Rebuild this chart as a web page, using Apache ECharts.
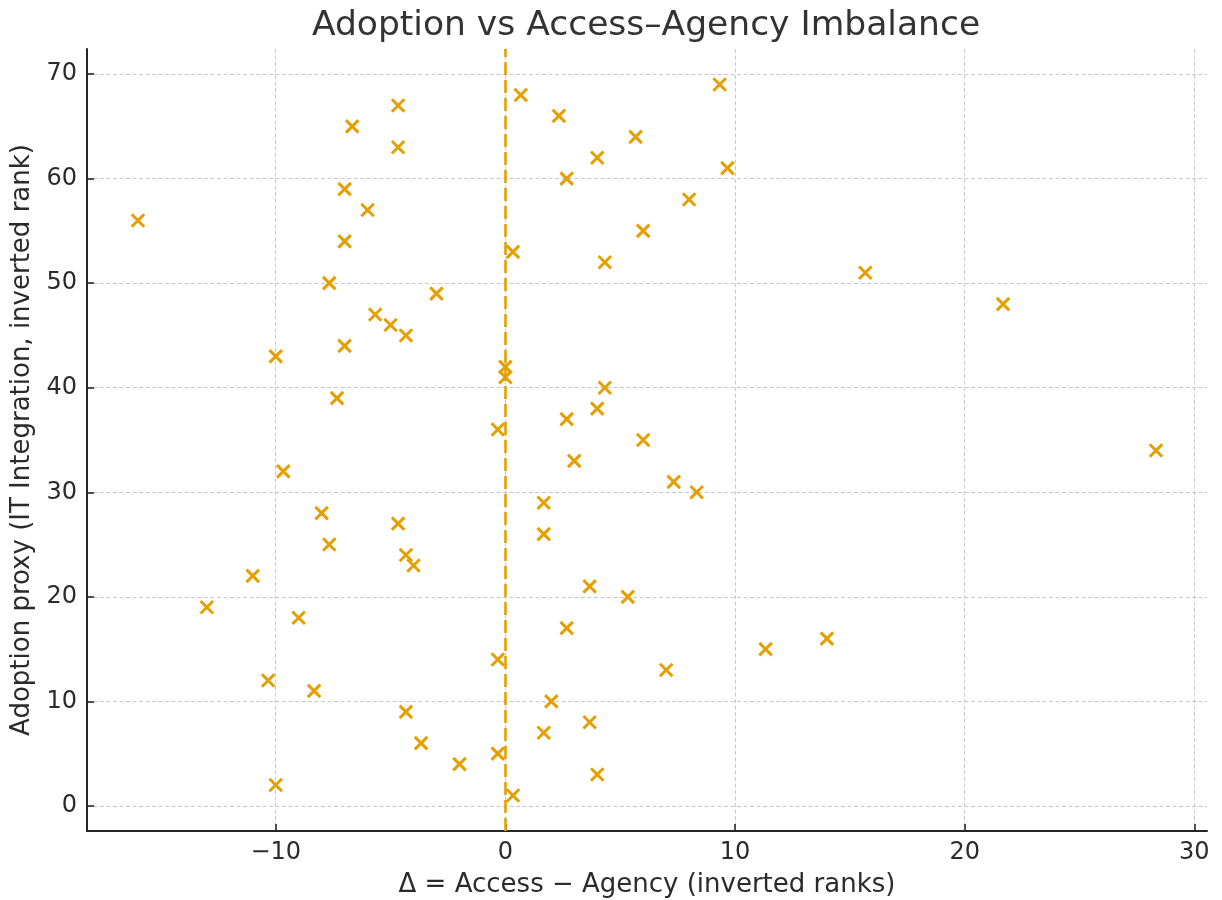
<!DOCTYPE html>
<html>
<head>
<meta charset="utf-8">
<script src="https://cdn.jsdelivr.net/npm/echarts@6/dist/echarts.min.js"></script>
<style>
html,body{margin:0;padding:0;background:#fff;}
#chart{width:1222px;height:900px;}
</style>
</head>
<body>
<div id="chart"></div>
<script>
// Δ = Access − Agency (inverted ranks)
const deltaValues = [9.33,0.67,-4.67,2.33,-6.67,5.67,-4.67,4,9.67,2.67,-7,8,-6,-16,6,-7,0.33,4.33,15.67,-7.67,-3,21.67,-5.67,-5,-4.33,-7,-10,0,0,4.33,-7.33,4,2.67,-0.33,6,28.33,3,-9.67,7.33,8.33,1.67,-8,-4.67,1.67,-7.67,-4.33,-4,-11,3.67,5.33,-13,-9,2.67,14,11.33,-0.33,7,-10.33,-8.33,2,-4.33,3.67,1.67,-3.67,-0.33,-2,4,-10,0.33];
// Adoption proxy (IT Integration, inverted rank)
const adoptionValues = [69,68,67,66,65,64,63,62,61,60,59,58,57,56,55,54,53,52,51,50,49,48,47,46,45,44,43,42,41,40,39,38,37,36,35,34,33,32,31,30,29,28,27,26,25,24,23,22,21,20,19,18,17,16,15,14,13,12,11,10,9,8,7,6,5,4,3,2,1];
const xTicks = [-10, 0, 10, 20, 30];
const yTicks = [0, 10, 20, 30, 40, 50, 60, 70];
const xRange = [-18.217, 30.55];
const yRange = [-2.4, 72.4];
const referenceX = 0;

const titleText = 'Adoption vs Access\u2013Agency Imbalance';
const xName = '\u0394 = Access \u2212 Agency (inverted ranks)';
const yName = 'Adoption proxy (IT Integration, inverted rank)';

const points = deltaValues.map((d, i) => [d, adoptionValues[i]]);

const FONT = '"DejaVu Sans", sans-serif';
const TXT = '#2b2b2b';
const ORANGE = '#E69F00';
const fmt = v => String(v).replace('-', '\u2212');

const chart = echarts.init(document.getElementById('chart'), null, {renderer: 'canvas'});
chart.setOption({
  animation: false,
  backgroundColor: '#ffffff',
  textStyle: {fontFamily: FONT},
  title: {
    text: titleText,
    left: 641, top: 4, textAlign: 'center',
    textStyle: {fontFamily: FONT, fontSize: 34.5, fontWeight: 'normal', color: '#333333'}
  },
  grid: {left: 87, right: 15, top: 49, bottom: 69, containLabel: false, outerBoundsMode: 'none'},
  xAxis: {
    type: 'value', min: xRange[0], max: xRange[1],
    name: xName, nameLocation: 'middle', nameGap: 41,
    nameTextStyle: {fontFamily: FONT, fontSize: 26, color: TXT},
    axisLine: {show: true, onZero: false, lineStyle: {color: '#262626', width: 2}},
    axisTick: {show: true, inside: true, length: 7, customValues: xTicks, lineStyle: {color: '#262626', width: 1.6}},
    axisLabel: {customValues: xTicks, formatter: fmt, margin: 10, fontFamily: FONT, fontSize: 24, color: TXT},
    splitLine: {show: true, lineStyle: {color: '#c8c8c8', width: 1, type: [4, 2.5]}}
  },
  yAxis: {
    type: 'value', min: yRange[0], max: yRange[1],
    name: yName, nameLocation: 'middle', nameGap: 48, nameRotate: 90,
    nameTextStyle: {fontFamily: FONT, fontSize: 26, color: TXT},
    axisLine: {show: true, onZero: false, lineStyle: {color: '#262626', width: 2}},
    axisTick: {show: true, inside: true, length: 7, customValues: yTicks, lineStyle: {color: '#262626', width: 1.6}},
    axisLabel: {customValues: yTicks, formatter: fmt, margin: 10, fontFamily: FONT, fontSize: 24, color: TXT},
    splitLine: {show: true, lineStyle: {color: '#c8c8c8', width: 1, type: [4, 2.5]}}
  },
  series: [{
    type: 'scatter',
    data: points,
    symbol: 'path://M0,0L10,10M10,0L0,10',
    symbolSize: 12.5,
    itemStyle: {color: ORANGE, borderColor: ORANGE, borderWidth: 3, opacity: 1},
    emphasis: {disabled: true},
    markLine: {
      silent: true, symbol: 'none',
      label: {show: false},
      lineStyle: {color: ORANGE, width: 2.6, type: [13, 5]},
      data: [{xAxis: referenceX}]
    },
    z: 3
  }]
});
</script>
</body>
</html>
